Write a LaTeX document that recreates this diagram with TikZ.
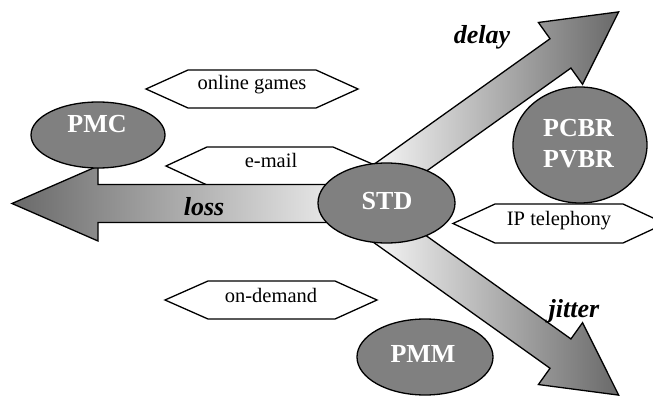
\documentclass[tikz,border=0pt]{standalone}
\usepackage{fontspec}
\setmainfont{Liberation Serif}
\usetikzlibrary{shapes.geometric}

\definecolor{ellgray}{RGB}{128,128,128}
\definecolor{tipgray}{RGB}{105,105,105}

% hexagonal tag: name, left tip x, inner left x, inner right x, right tip x, middle y, half height
\newcommand\hexbox[7]{%
  \draw[outline, fill=white]
    (#2,#6) coordinate (#1-w) -- (#3,#6+#7) -- (#4,#6+#7) -- (#5,#6) coordinate (#1-e)
    -- (#4,#6-#7) -- (#3,#6-#7) -- cycle;}

\begin{document}
\begin{tikzpicture}[x=1pt, y=1pt,
  outline/.style={draw=black, line width=1.3pt, line join=miter},
  blob/.style={ellipse, outline, fill=ellgray, inner sep=0pt},
  blobtext/.style={anchor=base, text=white, inner sep=0pt,
    font=\fontsize{26}{30}\selectfont\bfseries},
  tagtext/.style={anchor=base, inner sep=0pt, font=\fontsize{20.5}{24}\selectfont},
  axistext/.style={anchor=base, inner sep=0pt,
    font=\fontsize{26}{30}\selectfont\bfseries\itshape},
  fatarrow/.style={outline, left color=white, right color=tipgray}
]
\useasboundingbox (0,0) rectangle (653,397);

% application tags
\hexbox{games}{146}{188}{316}{358}{308}{19}
\node[tagtext] (gamestext) at (252,307) {online games};
\hexbox{mail}{166}{207}{333}{377}{231}{19}
\node[tagtext] (mailtext) at (271,230) {e-mail};
\hexbox{ipt}{453}{495}{623}{665}{173.5}{19.5}
\node[tagtext] (ipttext) at (559,172) {IP telephony};
\hexbox{vod}{165}{208}{335}{377}{97}{19}
\node[tagtext] (vodtext) at (271,95) {on-demand};

% loss axis, pointing left
\shade[outline, left color=tipgray, right color=white]
  (390,212.5) -- (98,212.5) -- (98,231) -- (12,193.5) -- (98,156)
  -- (98,174.5) -- (390,174.5) -- cycle;

% delay axis, up and to the right
\begin{scope}[shift={(400.5,229.5)}, rotate=35.5]
  \shade[fatarrow] (-40,-18) -- (196.5,-18) -- (196.5,-38) -- (268,0)
    -- (196.5,38) -- (196.5,18) -- (-40,18) -- cycle;
\end{scope}

% jitter axis, down and to the right
\begin{scope}[shift={(400.5,157.5)}, rotate=-35.5]
  \shade[fatarrow] (-40,-18) -- (196.5,-18) -- (196.5,-38) -- (268,0)
    -- (196.5,38) -- (196.5,18) -- (-40,18) -- cycle;
\end{scope}

% traffic models
\node[blob, minimum width=134pt, minimum height=66pt] (pmc) at (98,262) {};
\node[blobtext] (pmctext) at (97,265) {PMC};
\node[blob, minimum width=134pt, minimum height=116pt] (pbr) at (580,252) {};
\node[blobtext] (pcbrtext) at (578.5,260) {PCBR};
\node[blobtext] (pvbrtext) at (578.5,230) {PVBR};
\node[blob, minimum width=136pt, minimum height=76pt] (pmm) at (425,40) {};
\node[blobtext] (pmmtext) at (423,35) {PMM};
\node[blob, minimum width=137pt, minimum height=80pt] (std) at (386.5,194) {};
\node[blobtext] (stdtext) at (387,188) {STD};

% axis names
\node[axistext] (losstext) at (204,182) {loss};
\node[axistext] (delaytext) at (482,353) {delay};
\node[axistext] (jittertext) at (574,80) {jitter};
\end{tikzpicture}
\end{document}
